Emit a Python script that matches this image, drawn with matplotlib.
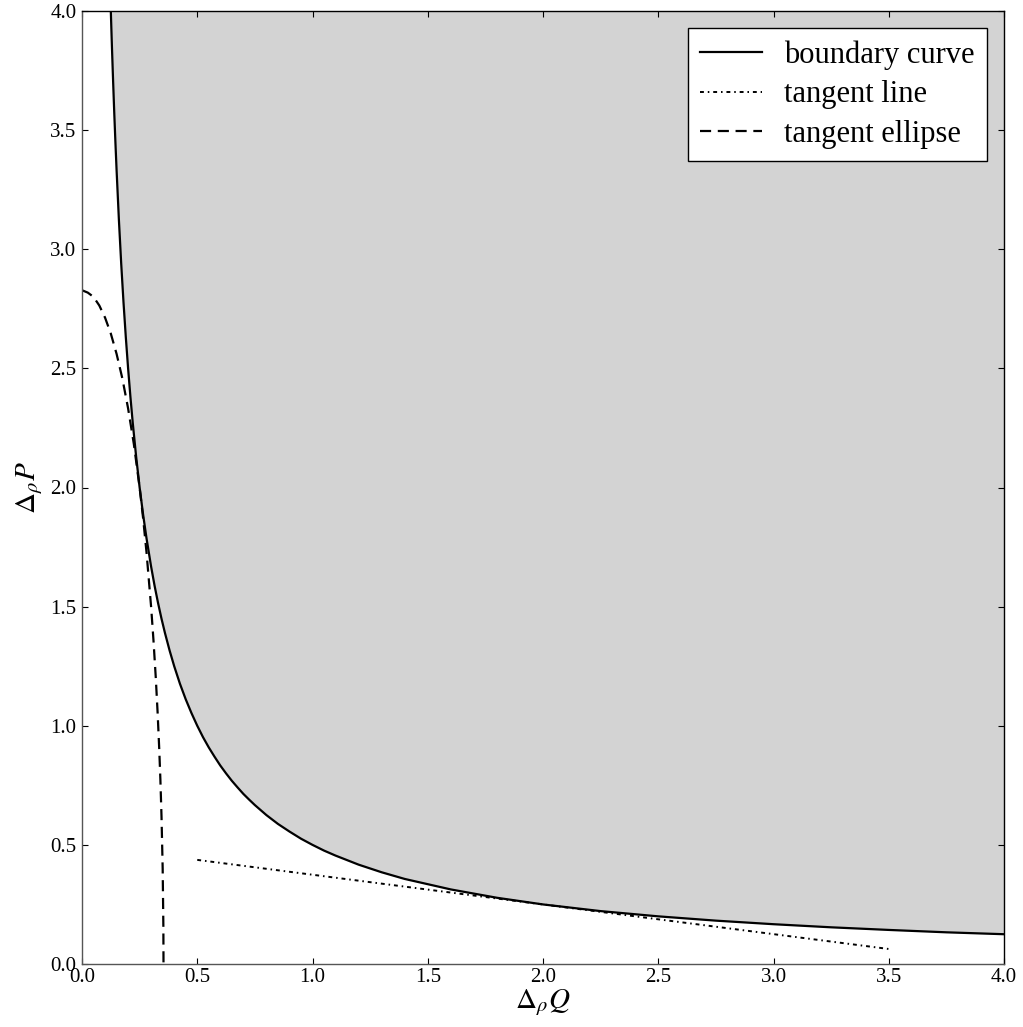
import numpy as np
import matplotlib
matplotlib.use("Agg")
import matplotlib.pyplot as plt

# boundary curve
boundary_q = [0.125, 0.1275, 0.13, 0.135, 0.14, 0.145, 0.15, 0.16, 0.17, 0.18, 0.19,
              0.2, 0.21, 0.22, 0.235, 0.25, 0.265, 0.28, 0.3, 0.315, 0.33, 0.345,
              0.36, 0.38, 0.4, 0.425, 0.45, 0.475, 0.5, 0.525, 0.55, 0.575, 0.6,
              0.625, 0.65, 0.675, 0.7, 0.725, 0.75, 0.8, 0.85, 0.9, 0.95, 1.0, 1.05,
              1.1, 1.2, 1.3, 1.4, 1.6, 1.8, 2.0, 2.25, 2.5, 2.75, 3.0, 3.25, 3.5,
              3.75, 4.0]
boundary_p = [4.0, 3.922, 3.846, 3.704, 3.571, 3.448, 3.333, 3.125, 2.941, 2.778,
              2.632, 2.5, 2.381, 2.273, 2.128, 2.0, 1.887, 1.786, 1.667, 1.587,
              1.515, 1.449, 1.389, 1.316, 1.25, 1.176, 1.111, 1.053, 1.0, 0.952,
              0.909, 0.87, 0.833, 0.8, 0.769, 0.741, 0.714, 0.69, 0.667, 0.625,
              0.588, 0.556, 0.526, 0.5, 0.476, 0.455, 0.417, 0.385, 0.357, 0.313,
              0.278, 0.25, 0.222, 0.2, 0.182, 0.167, 0.154, 0.143, 0.133, 0.125]

# tangent line end points
line_q = [0.5, 3.5]
line_p = [0.437, 0.063]

# tangent ellipse (quarter)
ellipse_q = [0.0, 0.025, 0.05, 0.075, 0.1, 0.125, 0.15, 0.175, 0.2, 0.225, 0.25,
             0.265, 0.28, 0.3, 0.31, 0.32, 0.328, 0.335, 0.34, 0.345, 0.35, 0.353,
             0.3536]
ellipse_p = [2.828, 2.818, 2.8, 2.764, 2.713, 2.646, 2.561, 2.458, 2.332, 2.182, 2.0,
             1.872, 1.727, 1.497, 1.36, 1.203, 1.056, 0.904, 0.776, 0.618, 0.4, 0.158,
             0.0]

xticks = [0.0, 0.5, 1.0, 1.5, 2.0, 2.5, 3.0, 3.5, 4.0]
yticks = [0.0, 0.5, 1.0, 1.5, 2.0, 2.5, 3.0, 3.5, 4.0]

plt.rcParams['font.family'] = ['Liberation Serif', 'DejaVu Serif']
plt.rcParams['mathtext.fontset'] = 'stix'

fig = plt.figure(figsize=(10.23, 10.27), dpi=100)
ax = fig.add_axes([82 / 1023, 1 - 964 / 1027, (1004 - 82) / 1023, (964 - 11) / 1027])

ax.fill_between(boundary_q, boundary_p, 4.0, color='lightgray', lw=0)
ax.plot(boundary_q, boundary_p, color='black', lw=1.6, label='boundary curve')
ax.plot(line_q, line_p, color='black', lw=1.4, dashes=[2, 2, 0.8, 2],
        label='tangent line')
ax.plot(ellipse_q, ellipse_p, color='black', lw=1.6, dashes=[5, 3],
        label='tangent ellipse')

ax.set_xlim(0, 4)
ax.set_ylim(0, 4)
ax.set_xticks(xticks)
ax.set_yticks(yticks)
ax.set_xticklabels([f"{t:.1f}" for t in xticks])
ax.set_yticklabels([f"{t:.1f}" for t in yticks])
ax.tick_params(direction='in', length=4, width=0.8, top=True, right=True,
               labelsize=15, pad=4)
ax.tick_params(axis='x', pad=3)
for s in ['left', 'bottom']:
    ax.spines[s].set_color('#555555')
for s in ax.spines.values():
    s.set_linewidth(1.0)

ax.set_xlabel(r'$\Delta_\rho Q$', fontsize=21, labelpad=0)
ax.set_ylabel(r'$\Delta_\rho P$', fontsize=21, labelpad=4)

leg = ax.legend(loc='upper right', fontsize=22, fancybox=False, framealpha=1,
                edgecolor='black', handlelength=2.0, handletextpad=0.75,
                labelspacing=0.35, borderpad=0.4, borderaxespad=0.55)
leg.get_frame().set_linewidth(1.0)

fig.savefig('out.png', dpi=100)
